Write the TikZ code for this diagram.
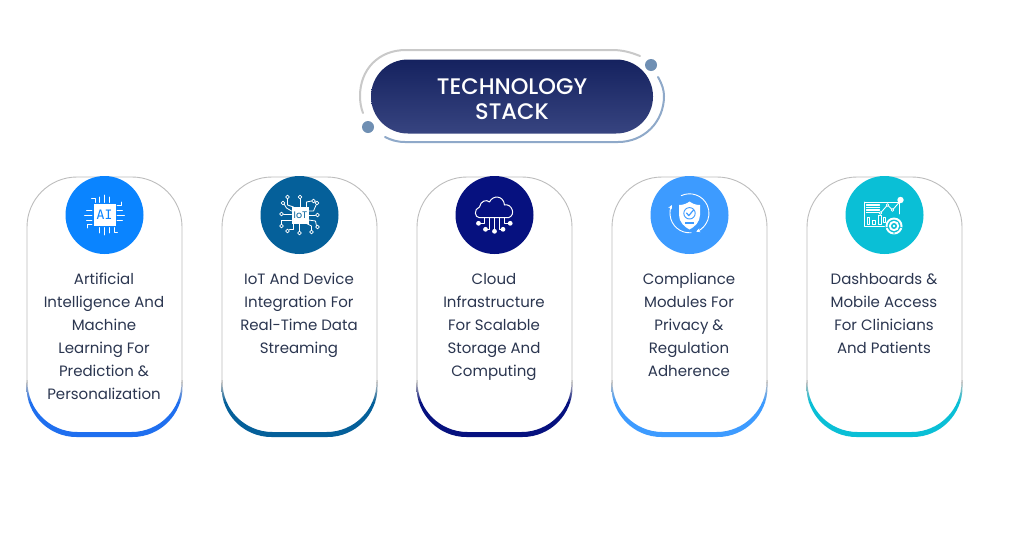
\documentclass[tikz,border=0pt]{standalone}
\usepackage{fontspec}
\setmainfont{Poppins}
\newfontfamily\titlefont{Poppins Medium}
\newfontfamily\chipfont{DejaVu Sans Mono}
\usetikzlibrary{arrows.meta}
\definecolor{inkc}{HTML}{2B3650}
\definecolor{edgec}{HTML}{BDBDBD}
\definecolor{pilltop}{HTML}{15225F}
\definecolor{pillbot}{HTML}{374480}
\definecolor{dotc}{HTML}{6F8FB3}
\definecolor{ringb}{HTML}{8FA9C9}
\definecolor{ringg}{HTML}{C9C9C9}
\definecolor{cai}{HTML}{0A84FF}
\definecolor{lai}{HTML}{1F6FEF}
\definecolor{ciot}{HTML}{05609A}
\definecolor{ccloud}{HTML}{06117F}
\definecolor{ccomp}{HTML}{3D9BFF}
\definecolor{cdash}{HTML}{0ABFD6}
\tikzset{
  x=1pt,y=-1pt,
  cardtext/.style={anchor=north,align=center,text=inkc,font=\fontsize{15}{23}\selectfont,inner sep=0pt},
  badge/.style={circle,minimum size=78pt,inner sep=0pt,fill=#1},
  frame/.style={draw=edgec,line width=0.9pt},
  ico/.style={draw=white,line width=0.9pt,line cap=round,line join=round},
  ring/.style={line width=2pt,line cap=round},
}
\newcommand{\techcard}[5]{%
  \draw[frame] (#2-77.5,386) -- (#2-77.5,227) arc (180:270:50) -- (#2+27.5,177)
    arc (270:360:50) -- (#2+77.5,386);
  \begin{scope}
    \clip (#2-78,380) -- (#2-78,387) arc (180:90:50)
      -- (#2+28,437) arc (90:0:50)
      -- (#2+78,380) -- (#2+77,380) -- (#2+77,382) arc (0:90:50)
      -- (#2-27,432) arc (90:180:50) -- (#2-77,380) -- cycle;
    \shade[top color=edgec,bottom color=#3] (#2-80,382) rectangle (#2+80,402);
    \fill[#3] (#2-80,401.5) rectangle (#2+80,440);
    \fill[edgec] (#2-80,378) rectangle (#2+80,382.5);
  \end{scope}
  \node[badge=#4] (#1badge) at (#2,215) {};
  \node[cardtext] (#1text) at (#2-0.5,268.8) {\rule{0pt}{15pt}#5};
}
\begin{document}
\begin{tikzpicture}
\useasboundingbox (0,0) rectangle (1024,536);
\fill[white] (0,0) rectangle (1024,536);

% title
\draw[ring,ringg] (640,56) .. controls (630,52) and (622,50) .. (612,50) -- (406,50)
  .. controls (378,50) and (360,70) .. (360,96) .. controls (360,102) and (361,108) .. (363,113);
\draw[ring,ringb] (658,77) .. controls (662,84) and (664,90) .. (664,96)
  .. controls (664,122) and (644,142) .. (618,142) -- (405,142) .. controls (397,142) and (391,140) .. (385,137);
\node[circle,fill=dotc,minimum size=12pt,inner sep=0pt] (dota) at (651,65) {};
\node[circle,fill=dotc,minimum size=12pt,inner sep=0pt] (dotb) at (368,127) {};
\shade[top color=pilltop,bottom color=pillbot,rounded corners=36.9pt] (371,59.5) rectangle (653,133.5);
\node[align=center,text=white,inner sep=0pt,font=\titlefont\fontsize{22.5}{25}\selectfont] (title) at (512,99) {TECHNOLOGY\\STACK};

% cards
\techcard{ai}{104.5}{lai}{cai}{Artificial\\Intelligence And\\Machine\\Learning For\\Prediction \&\\Personalization}
\techcard{iot}{299.5}{ciot}{ciot}{IoT And Device\\Integration For\\Real-Time Data\\Streaming}
\techcard{cloud}{494.5}{ccloud}{ccloud}{Cloud\\Infrastructure\\For Scalable\\Storage And\\Computing}
\techcard{comp}{689.5}{ccomp}{ccomp}{Compliance\\Modules For\\Privacy \&\\Regulation\\Adherence}
\techcard{dash}{884.5}{cdash}{cdash}{Dashboards \&\\Mobile Access\\For Clinicians\\And Patients}

% AI chip icon
\begin{scope}[shift={(104.5,215)}]
  \foreach \a in {0,90,180,270}{
    \begin{scope}[rotate=\a]
      \draw[ico] (-5,-12.5) -- (-5,-18);
      \draw[ico] (0,-12.5) -- (0,-20);
      \draw[ico] (5,-12.5) -- (5,-18);
      \draw[ico] (-9.5,-12.5) -- (-9.5,-17) -- (-13,-17);
    \end{scope}
  }
  \node[fill=white,minimum size=22pt,inner sep=0pt,text=cai,font=\chipfont\fontsize{13}{13}\selectfont] (aichip) at (0,0) {AI};
\end{scope}

% IoT icon
\begin{scope}[shift={(299.5,215)}]
  \draw[ico,line width=0.8pt] (-12,-16) -- (-12,-10) -- (-6,-8);
  \draw[ico,line width=0.8pt] (0.5,-16) -- (0.5,-8);
  \draw[ico,line width=0.8pt] (-16,-1) -- (-8,-1);
  \draw[ico,line width=0.8pt] (16,0) -- (9,0);
  \draw[ico,line width=0.8pt] (-16,-12) -- (-13,-7) -- (-8,-4);
  \draw[ico,line width=0.8pt] (-18,9) -- (-18,5) -- (-8,5);
  \draw[ico,line width=0.8pt] (0,16) -- (0,8);
  \draw[ico,line width=0.8pt] (-10,14) -- (-6,14) -- (-6,8);
  \draw[ico,line width=0.8pt] (12,15) -- (12,11) -- (6,8);
  \draw[ico,line width=0.8pt] (7,-8) -- (7,-13) -- (12,-14);
  \draw[ico,line width=0.8pt] (9,-4) -- (14,-4) -- (17,-11);
  \draw[ico,line width=0.8pt] (9,5) -- (16,6) -- (17,11);
  \draw[ico,fill=ciot,line width=0.8pt] (-12,-18) circle (1.9) (0.5,-18) circle (1.9) (-18,-1) circle (1.9) (18,0) circle (1.9) (-18,11) circle (1.9) (0,18) circle (1.9) (-12,16) circle (1.9) (12,17) circle (1.9) (17.5,-12) circle (1.9) (-16.5,-12) circle (1.9) (14,-14) circle (1.9) (18,12) circle (1.9);
  \node[fill=white,minimum size=16.5pt,inner sep=0pt,text=ciot,font=\fontsize{9.5}{10}\selectfont] (iotchip) at (1,0.5) {IoT};
\end{scope}

% cloud icon
\begin{scope}[shift={(494.5,215)}]
  \draw[ico,line width=1pt] (-15,2.7) .. controls (-20,2.7) and (-21,-6) .. (-15,-8)
    .. controls (-14,-14) and (-8,-16) .. (-5,-13)
    .. controls (-2,-20) and (9,-20) .. (10,-10)
    .. controls (17,-12) and (22,0) .. (14,2.7) -- cycle;
  \draw[ico] (-10,2.7) -- (-10,8.3) -- (-15,8.3);
  \draw[ico] (-5,2.7) -- (-5,14.3) -- (-9,14.3);
  \draw[ico] (0,2.7) -- (0,15);
  \draw[ico] (5,2.7) -- (5,14.3) -- (8.5,14.3);
  \draw[ico] (10,2.7) -- (10,8.3) -- (15,8.3);
  \fill[white] (-16,8.3) circle (2.4) (-9,14.3) circle (2.4) (0,16.3) circle (2.4) (8.5,14.3) circle (2.4) (15.7,8.3) circle (2.4);
\end{scope}

% shield icon
\begin{scope}[shift={(689.5,215)}]
  \draw[ico,-{Stealth[length=4pt,width=4pt]}] (0,-1.7) ++(-115:19.5) arc (-115:70:19.5);
  \draw[ico,-{Stealth[length=4pt,width=4pt]}] (0,-1.7) ++(85:19.5) arc (85:205:19.5);
  \fill[white] (0,-13.5) .. controls (3,-11) and (7,-10) .. (10.5,-10) -- (10.5,0)
    .. controls (10.5,7) and (5,12) .. (0,14.5) .. controls (-5,12) and (-10.5,7) .. (-10.5,0) -- (-10.5,-10)
    .. controls (-7,-10) and (-3,-11) .. (0,-13.5) -- cycle;
  \draw[draw=ccomp,line width=0.9pt] (0,-1.7) circle (5.7);
  \draw[draw=ccomp,line width=1.2pt,line cap=round,line join=round] (-3,-2) -- (-0.7,0.6) -- (4,-5);
  \fill[ccomp] (-4.5,6.5) rectangle (4.5,8.5);
\end{scope}

% dashboard icon
\begin{scope}[shift={(884.5,215)}]
  \draw[ico,line width=0.8pt] (-20,-13) -- (15,-13) -- (15,-1);
  \draw[ico,line width=0.8pt] (-20,-13) -- (-20,11) -- (0,11);
  \foreach \y in {-10,-7.5,-5,-2.5}{
    \draw[ico,line width=1.2pt] (-18,\y) -- (-5,\y);
  }
  \draw[ico,line width=0.9pt] (-17.5,2.5) rectangle (-15,9);
  \draw[ico,line width=0.9pt] (-12,5) rectangle (-9,9);
  \draw[ico,line width=0.9pt] (-6.5,0) rectangle (-3.5,9);
  \draw[ico,line width=0.9pt] (-1,2) rectangle (1,7);
  \draw[ico] (-4,-2) -- (3,-10) -- (8,-5) -- (15,-13);
  \draw[ico,fill=cdash,line width=0.7pt] (3,-10) circle (1.3) (8,-5) circle (1.3) (-4,-2) circle (1.3);
  \fill[white] (16,-15) circle (3.2);
  \fill[white] (9.5,11) circle (8.5);
  \fill[cdash] (9.5,11) circle (6.4);
  \fill[white] (9.5,11) circle (5.2);
  \fill[cdash] (9.5,11) circle (3);
  \fill[white] (9.5,11) circle (1.4);
  \draw[cdash,line width=0.7pt] (1,13) -- (4,12) (18,13) -- (15,12) (9.5,19.5) -- (9.5,17);
\end{scope}
\end{tikzpicture}
\end{document}
